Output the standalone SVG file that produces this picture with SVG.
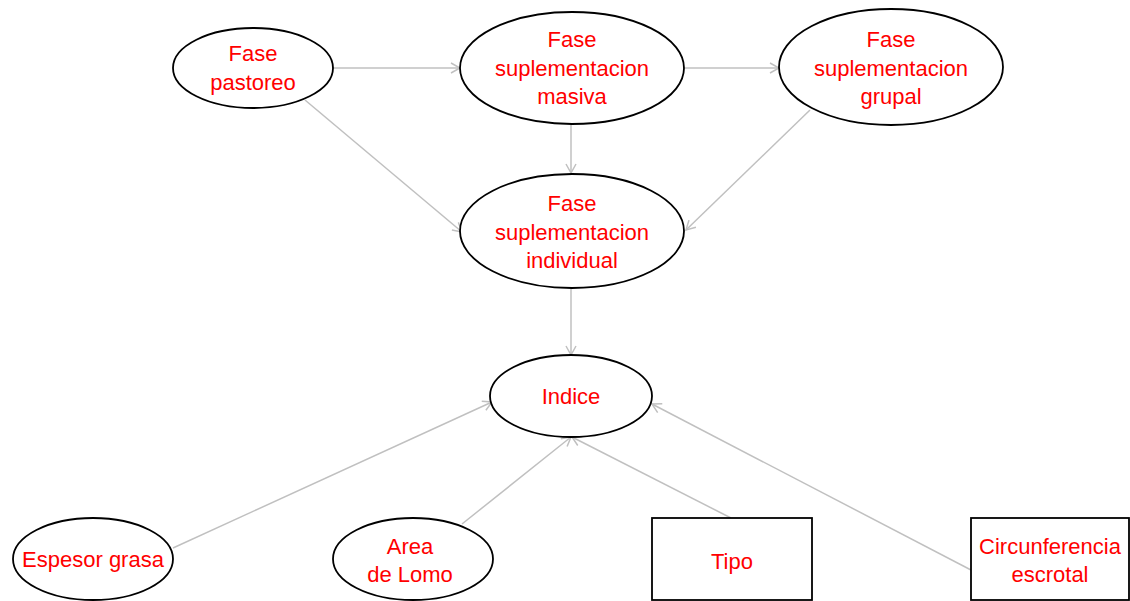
<svg xmlns="http://www.w3.org/2000/svg" width="1130" height="601" viewBox="0 0 1130 601">
<defs>
<marker id="arr" markerWidth="12" markerHeight="12" refX="10" refY="6" orient="auto" markerUnits="userSpaceOnUse">
<path d="M1,1 L10,6 L1,11" fill="none" stroke="#c0c0c0" stroke-width="1.5"/>
</marker>
<style>
.n{fill:#fff;stroke:#000;stroke-width:1.8}
.t{font-family:"Liberation Sans",Arial,sans-serif;font-size:22px;fill:#ff0000;text-anchor:middle}
.e{stroke:#c0c0c0;stroke-width:1.5;fill:none;marker-end:url(#arr)}
.e2{stroke:#c0c0c0;stroke-width:1.5;fill:none}
</style>
</defs>
<rect width="1130" height="601" fill="#fff"/>
<g id="connectors">
<line class="e" x1="333" y1="68" x2="460" y2="68"/>
<line class="e" x1="685" y1="68" x2="779" y2="68"/>
<line class="e" x1="305" y1="100" x2="462" y2="232"/>
<line class="e" x1="571" y1="124" x2="571" y2="173"/>
<line class="e" x1="810" y1="110" x2="686" y2="230"/>
<line class="e" x1="571" y1="288" x2="571" y2="355"/>
<line class="e" x1="173" y1="548" x2="492" y2="402"/>
<line class="e" x1="462" y1="524" x2="571" y2="437"/>
<line class="e" x1="731" y1="518" x2="572" y2="437"/>
<line class="e" x1="971" y1="570" x2="652" y2="404"/>
</g>
<g id="pastoreo">
<ellipse class="n" cx="253" cy="68" rx="80" ry="40"/>
<text class="t" x="253" y="61">Fase</text>
<text class="t" x="253" y="90">pastoreo</text>
</g>
<g id="masiva">
<ellipse class="n" cx="572" cy="68" rx="112" ry="56"/>
<text class="t" x="572" y="47">Fase</text>
<text class="t" x="572" y="76">suplementacion</text>
<text class="t" x="572" y="104">masiva</text>
</g>
<g id="grupal">
<ellipse class="n" cx="891" cy="67" rx="112" ry="58"/>
<text class="t" x="891" y="47">Fase</text>
<text class="t" x="891" y="76">suplementacion</text>
<text class="t" x="891" y="104">grupal</text>
</g>
<g id="individual">
<ellipse class="n" cx="572" cy="231" rx="112" ry="57"/>
<text class="t" x="572" y="211">Fase</text>
<text class="t" x="572" y="240">suplementacion</text>
<text class="t" x="572" y="268">individual</text>
</g>
<g id="indice">
<ellipse class="n" cx="571" cy="396" rx="81" ry="41"/>
<text class="t" x="571" y="404">Indice</text>
</g>
<g id="espesor">
<ellipse class="n" cx="93" cy="559" rx="80" ry="41"/>
<text class="t" x="93" y="567">Espesor grasa</text>
</g>
<g id="area">
<ellipse class="n" cx="413" cy="559" rx="80" ry="41"/>
<text class="t" x="410" y="554">Area</text>
<text class="t" x="410" y="582">de Lomo</text>
</g>
<g id="tipo">
<rect class="n" x="652" y="518" width="160" height="82"/>
<text class="t" x="732" y="569">Tipo</text>
</g>
<g id="circunferencia">
<rect class="n" x="971" y="518" width="158" height="82"/>
<text class="t" x="1050" y="554">Circunferencia</text>
<text class="t" x="1050" y="582">escrotal</text>
</g>
</svg>
